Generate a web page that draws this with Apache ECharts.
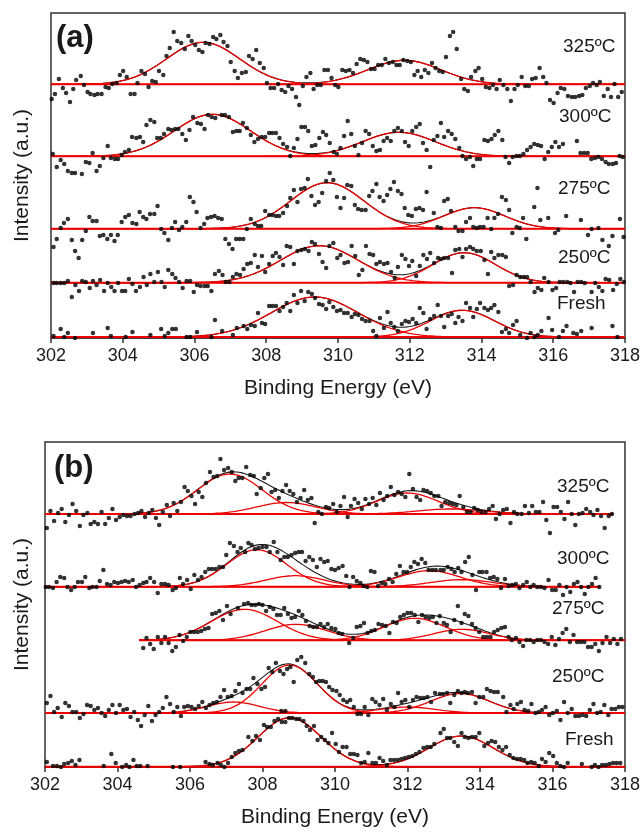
<!DOCTYPE html>
<html>
<head>
<meta charset="utf-8">
<title>XPS spectra</title>
<script src="https://cdn.jsdelivr.net/npm/echarts@6/dist/echarts.min.js"></script>
<style>
  html, body { margin: 0; padding: 0; background: #fff; }
  #chart { width: 643px; height: 832px; }
</style>
</head>
<body>
<div id="chart"></div>
<script>
// Binding-energy axis
const energyMin = 302;
const energyMax = 318;
const energyStep = 2;

const sampleLabels = ['325ºC', '300ºC', '275ºC', '250ºC', 'Fresh'];

// ---------- Panel (a) ----------
// baseline level of each stacked spectrum (arbitrary intensity units)
const baseA = [253.7, 181.7, 109.3, 55.3, 1];
// fitted components: [centre eV, height, FWHM eV]
const peaksA = [
  [[306.24, 42, 2.4], [311.85, 24, 2.4]],
  [[306.5, 42, 2.5], [311.7, 24, 2.4]],
  [[309.7, 46, 2.4], [313.8, 21, 2.0]],
  [[309.48, 37, 2.55], [313.52, 30, 2.05]],
  [[309.35, 40, 2.85], [313.47, 26.7, 2.1]]
];
const spanA = [[302, 318], [302, 318], [302, 318], [302, 318], [302, 318]];

const dotsA325 = [[302.02,239],[302.11,244],[302.22,259],[302.33,250],[302.42,245],[302.53,236],[302.62,249],[302.70,258],[302.83,262],[302.92,253],[303.02,246],[303.10,244],[303.21,243],[303.30,244],[303.41,244],[303.52,251],[303.61,250],[303.71,254],[303.83,255],[303.92,263],[304.01,267],[304.11,261],[304.22,244],[304.33,244],[304.41,255],[304.52,267],[304.62,264],[304.72,251],[304.82,257],[304.92,256],[305.01,267],[305.13,263],[305.22,282],[305.31,290],[305.42,306],[305.52,297],[305.63,295],[305.73,289],[305.83,302],[305.92,297],[306.02,293],[306.12,288],[306.22,286],[306.31,295],[306.42,294],[306.52,301],[306.61,299],[306.72,303],[306.81,296],[306.92,292],[307.01,276],[307.12,267],[307.21,260],[307.32,265],
[307.43,266],[307.52,282],[307.62,279],[307.72,288],[307.82,275],[307.93,270],[308.02,255],[308.12,250],[308.22,250],[308.33,254],[308.43,248],[308.53,246],[308.62,252],[308.72,249],[308.83,241],[308.92,233],[309.02,252],[309.12,261],[309.23,265],[309.32,249],[309.42,253],[309.52,253],[309.62,268],[309.72,268],[309.82,260],[309.92,253],[310.01,251],[310.12,268],[310.22,267],[310.32,268],[310.42,265],[310.52,274],[310.62,279],[310.72,278],[310.82,276],[310.92,269],[311.02,269],[311.12,273],[311.22,273],[311.32,279],[311.42,275],[311.53,276],[311.63,273],[311.72,273],[311.82,278],[311.93,277],[312.03,276],[312.13,263],[312.22,267],[312.32,261],[312.42,268],[312.52,265],[312.62,275],[312.72,270],
[312.82,267],[312.92,266],[313.01,281],[313.12,302],[313.21,306],[313.31,289],[313.43,259],[313.52,249],[313.62,247],[313.71,261],[313.83,267],[313.92,270],[314.02,259],[314.12,251],[314.22,250],[314.32,253],[314.42,249],[314.51,258],[314.61,253],[314.72,249],[314.82,237],[314.92,249],[315.01,253],[315.12,261],[315.22,252],[315.32,252],[315.41,259],[315.51,260],[315.62,270],[315.72,261],[315.81,255],[315.91,238],[316.01,235],[316.12,245],[316.21,250],[316.31,249],[316.41,242],[316.52,241],[316.61,241],[316.72,242],[316.81,243],[316.91,250],[317.02,252],[317.11,255],[317.21,253],[317.30,256],[317.41,242],[317.52,249],[317.61,241],[317.71,254],[317.81,241],[317.91,246]];

const dotsA300 = [[302.05,184],[302.16,171],[302.27,178],[302.37,174],[302.47,167],[302.58,165],[302.67,165],[302.86,164],[302.97,176],[303.07,175],[303.16,185],[303.27,167],[303.36,172],[303.46,180],[303.58,192],[303.67,180],[303.78,179],[303.87,179],[303.97,183],[304.06,186],[304.17,188],[304.26,201],[304.38,200],[304.48,201],[304.57,196],[304.66,213],[304.77,218],[304.88,216],[304.96,200],[305.06,200],[305.15,204],[305.27,209],[305.36,208],[305.46,209],[305.55,209],[305.66,204],[305.76,198],[305.86,208],[305.96,221],[306.08,215],[306.18,214],[306.28,209],[306.38,223],[306.48,221],[306.58,220],[306.76,223],[306.85,223],[306.96,221],[307.07,206],[307.17,207],[307.26,207],[307.35,215],
[307.46,210],[307.57,203],[307.67,196],[307.77,199],[307.87,201],[307.97,201],[308.08,205],[308.17,205],[308.27,205],[308.37,200],[308.47,194],[308.58,191],[308.67,182],[308.77,190],[308.87,199],[308.98,211],[309.08,211],[309.17,207],[309.27,192],[309.37,193],[309.48,200],[309.58,206],[309.67,203],[309.77,195],[309.88,186],[309.97,184],[310.07,190],[310.17,202],[310.27,217],[310.37,204],[310.47,192],[310.57,183],[310.67,195],[310.77,207],[310.87,204],[310.97,192],[311.07,187],[311.17,188],[311.27,197],[311.37,200],[311.47,197],[311.57,207],[311.67,210],[311.78,207],[311.87,196],[311.97,192],[312.07,207],[312.18,211],[312.28,214],[312.37,195],[312.47,188],[312.57,171],[312.67,198],[312.77,202],
[312.87,215],[312.96,201],[313.07,207],[313.17,204],[313.27,199],[313.38,190],[313.47,182],[313.57,179],[313.68,181],[313.77,172],[313.87,179],[313.96,179],[314.08,198],[314.18,197],[314.28,199],[314.37,203],[314.47,207],[314.58,198],[314.67,181],[314.77,175],[314.87,181],[314.98,182],[315.07,182],[315.17,184],[315.27,188],[315.37,191],[315.47,194],[315.57,193],[315.66,192],[315.76,179],[315.86,186],[315.96,191],[316.06,196],[316.16,191],[316.27,194],[316.66,197],[316.76,185],[316.86,185],[316.96,185],[317.06,179],[317.16,180],[317.26,181],[317.36,179],[317.46,176],[317.55,174],[317.66,174],[317.75,175],[317.85,182],[317.94,181]];

const dotsA275 = [[302.07,91],[302.16,99],[302.27,110],[302.36,115],[302.47,119],[302.58,98],[302.67,87],[302.77,80],[302.87,98],[302.97,107],[303.07,121],[303.16,117],[303.27,117],[303.36,102],[303.46,103],[303.57,99],[303.67,103],[303.77,97],[303.86,103],[303.97,116],[304.07,121],[304.17,123],[304.27,115],[304.38,114],[304.47,126],[304.57,121],[304.66,119],[304.76,124],[304.88,124],[304.97,132],[305.07,109],[305.16,105],[305.27,98],[305.37,110],[305.46,116],[305.57,108],[305.66,111],[305.77,116],[305.87,141],[305.97,136],[306.06,126],[306.17,110],[306.27,114],[306.36,120],[306.46,121],[306.56,122],[306.66,120],[306.76,119],[306.86,99],[306.96,94],[307.06,89],[307.16,99],[307.26,99],[307.36,99],
[307.46,109],[307.57,119],[307.68,114],[307.77,112],[307.86,112],[307.97,127],[308.08,123],[308.17,123],[308.27,122],[308.36,122],[308.47,125],[308.58,132],[308.67,140],[308.77,148],[308.87,136],[308.97,149],[309.07,150],[309.16,159],[309.26,142],[309.36,133],[309.46,136],[309.56,145],[309.67,157],[309.77,165],[309.87,158],[309.97,141],[310.07,130],[310.17,140],[310.26,153],[310.37,152],[310.47,133],[310.56,129],[310.66,128],[310.77,128],[310.87,142],[310.96,147],[311.07,154],[311.16,141],[311.27,137],[311.37,143],[311.46,149],[311.56,156],[311.67,147],[311.77,144],[311.86,130],[311.96,123],[312.06,122],[312.17,129],[312.27,130],[312.37,128],[312.47,146],[312.67,125],[312.77,111],
[312.87,110],[312.96,137],[313.06,139],[313.15,127],[313.27,111],[313.36,107],[313.47,107],[313.57,116],[313.68,120],[313.77,111],[313.87,110],[313.96,111],[314.06,111],[314.17,120],[314.27,109],[314.36,120],[314.46,124],[314.57,141],[314.68,138],[314.77,128],[314.86,105],[314.98,111],[315.07,110],[315.16,120],[315.25,99],[315.47,131],[315.56,150],[315.64,118],[315.86,120],[316.05,105],[316.14,108],[316.36,122],[316.77,118],[316.97,103],[317.07,109],[317.26,110],[317.37,98],[317.55,92],[317.65,102],[317.86,119],[317.96,101]];

const dotsA250 = [[302.07,55],[302.16,55],[302.27,55],[302.37,55],[302.47,57],[302.58,41],[302.68,53],[302.78,47],[302.87,57],[302.97,56],[303.08,50],[303.17,57],[303.27,53],[303.37,58],[303.48,47],[303.58,55],[303.68,51],[303.77,47],[303.87,55],[303.98,47],[304.07,47],[304.17,59],[304.27,54],[304.37,47],[304.48,51],[304.58,61],[304.67,53],[304.77,64],[304.88,56],[304.98,66],[305.08,56],[305.17,51],[305.27,68],[305.38,64],[305.47,60],[305.57,56],[305.67,50],[305.78,57],[305.88,57],[305.98,46],[306.07,53],[306.17,52],[306.28,52],[306.37,52],[306.47,47],[306.57,64],[306.68,67],[306.78,63],[306.87,56],[306.97,56],[307.07,61],[307.17,64],[307.27,63],[307.37,69],
[307.47,74],[307.57,75],[307.68,83],[307.77,71],[307.88,82],[307.97,66],[308.08,74],[308.18,82],[308.27,85],[308.37,81],[308.47,73],[308.57,92],[308.67,91],[308.77,74],[308.87,87],[308.98,88],[309.08,89],[309.18,87],[309.27,96],[309.36,94],[309.47,84],[309.57,76],[309.67,70],[309.76,92],[309.87,95],[309.98,80],[310.07,83],[310.18,75],[310.28,76],[310.38,92],[310.48,82],[310.58,63],[310.68,68],[310.78,92],[310.88,84],[310.98,83],[311.07,74],[311.17,76],[311.28,74],[311.38,75],[311.48,66],[311.58,60],[311.67,71],[311.78,83],[311.88,79],[311.98,72],[312.07,77],[312.18,62],[312.28,72],[312.38,83],[312.48,79],[312.57,85],[312.68,75],[312.79,80],
[312.87,79],[312.96,80],[313.07,80],[313.18,65],[313.27,88],[313.38,89],[313.47,81],[313.57,89],[313.68,91],[313.77,89],[313.87,87],[313.98,87],[314.08,78],[314.18,64],[314.27,86],[314.36,80],[314.47,83],[314.58,83],[314.68,81],[314.77,52],[314.88,53],[314.98,63],[315.08,61],[315.18,61],[315.27,61],[315.37,56],[315.48,46],[315.57,50],[315.67,48],[315.75,60],[315.87,56],[315.98,48],[316.08,50],[316.18,56],[316.28,56],[316.39,56],[316.48,55],[316.58,46],[316.68,56],[316.78,56],[316.88,55],[317.07,46],[317.17,55],[317.27,51],[317.37,47],[317.46,59],[317.56,58],[317.67,48],[317.77,54],[317.87,59],[317.97,56]];

const dotsAFresh = [[302.07,2],[302.27,9],[302.37,1],[302.47,5],[302.67,0],[303.17,5],[303.58,10],[303.67,2],[304.08,1],[304.27,6],[304.77,3],[305.07,9],[305.17,2],[305.27,5],[305.38,9],[305.48,9],[305.78,1],[305.88,1],[306.07,6],[306.47,1],[306.57,18],[306.77,7],[307.07,3],[307.18,10],[307.37,12],
[307.47,9],[307.57,13],[307.68,12],[307.77,25],[307.88,15],[307.97,14],[308.08,32],[308.17,32],[308.27,32],[308.37,27],[308.47,31],[308.57,35],[308.67,27],[308.77,43],[308.87,35],[308.97,47],[309.07,37],[309.17,46],[309.27,44],[309.36,40],[309.47,34],[309.57,33],[309.67,29],[309.76,36],[309.87,31],[309.97,27],[310.07,28],[310.17,25],[310.27,25],[310.38,21],[310.47,24],[310.57,23],[310.67,19],[310.77,17],[310.88,17],[310.98,7],[311.07,2],[311.17,20],[311.28,10],[311.38,26],[311.47,15],[311.57,11],[311.67,7],[311.78,14],[311.88,17],[311.98,16],[312.08,19],[312.18,15],[312.28,30],[312.38,25],[312.47,9],[312.57,19],[312.68,22],[312.78,33],
[312.87,22],[312.96,11],[313.07,22],[313.17,24],[313.27,15],[313.36,21],[313.47,17],[313.57,35],[313.68,30],[313.77,21],[313.87,29],[313.96,35],[314.08,30],[314.18,28],[314.27,30],[314.36,33],[314.47,26],[314.57,6],[314.68,9],[314.77,5],[314.88,13],[314.98,17],[315.08,3],[315.27,0],[315.37,5],[315.48,1],[315.57,3],[315.67,7],[315.87,20],[315.97,8],[316.16,1],[316.27,7],[316.37,12],[316.56,5],[316.66,4],[316.78,7],[317.07,10],[317.65,12],[317.79,1]];

// ---------- Panel (b) ----------
const baseB = [253, 180.3, 126.7, 54, 0.3];
const peaksB = [
  [[307.1, 40, 2.1], [308.66, 11.5, 1.95], [312.0, 21, 2.0], [313.2, 5, 2.2]],
  [[307.84, 37, 1.95], [308.9, 11, 1.9], [312.6, 16, 2.0], [313.5, 7, 2.0]],
  [[307.5, 31, 2.15], [308.93, 16, 2.0], [312.2, 22, 2.0], [313.5, 11, 1.8]],
  [[308.75, 48, 1.8], [307.2, 11, 1.7], [313.45, 19.5, 1.9], [312.0, 6, 1.8]],
  [[308.75, 49, 2.05], [313.48, 30.7, 2.1]]
];
const spanB = [[302, 317.67], [302, 317.3], [304.6, 318], [302, 318], [302, 318]];

const dotsB325 = [[302.05,239],[302.15,256],[302.25,246],[302.36,254],[302.46,258],[302.56,245],[302.66,252],[302.76,263],[302.86,256],[302.96,241],[303.06,252],[303.17,254],[303.26,243],[303.36,245],[303.46,243],[303.56,255],[303.66,243],[303.76,249],[303.86,258],[303.96,247],[304.06,250],[304.16,252],[304.26,251],[304.36,251],[304.47,253],[304.57,254],[304.66,256],[304.76,250],[304.86,254],[304.96,257],[305.06,249],[305.15,242],[305.25,255],[305.36,262],[305.45,251],[305.55,264],[305.65,256],[305.75,265],[305.85,280],[305.94,276],[306.04,271],[306.14,263],[306.24,275],[306.34,270],[306.44,284],[306.55,295],[306.65,290],[306.75,291],[306.84,308],[306.94,297],[307.05,299],[307.15,295],[307.25,286],[307.34,289],[307.44,289],
[307.55,300],[307.66,292],[307.76,291],[307.84,273],[307.95,279],[308.05,289],[308.15,293],[308.25,275],[308.35,277],[308.45,269],[308.55,276],[308.65,282],[308.75,276],[308.85,273],[308.95,265],[309.05,269],[309.15,277],[309.25,267],[309.35,269],[309.44,244],[309.54,255],[309.64,253],[309.75,260],[309.84,259],[309.95,263],[310.05,255],[310.15,261],[310.25,270],[310.35,250],[310.44,261],[310.54,268],[310.64,264],[310.74,258],[310.84,268],[310.94,263],[311.04,269],[311.14,262],[311.24,274],[311.34,267],[311.44,271],[311.54,280],[311.64,272],[311.74,275],[311.84,273],[311.94,270],[312.05,293],[312.15,278],[312.25,270],[312.35,267],[312.44,277],[312.54,276],[312.64,274],[312.74,271],
[312.85,271],[312.94,261],[313.04,265],[313.15,264],[313.25,263],[313.35,262],[313.44,271],[313.54,260],[313.64,255],[313.74,255],[313.84,259],[313.94,257],[314.04,255],[314.15,255],[314.25,258],[314.35,261],[314.44,248],[314.54,253],[314.64,257],[314.74,258],[314.84,244],[314.94,255],[315.03,253],[315.15,253],[315.24,261],[315.35,254],[315.44,261],[315.54,255],[315.64,255],[315.74,265],[315.83,247],[315.93,234],[316.03,260],[316.13,260],[316.23,255],[316.33,248],[316.43,265],[316.53,253],[316.63,242],[316.73,253],[316.83,254],[316.93,258],[317.04,255],[317.13,252],[317.24,257],[317.34,251],[317.44,239],[317.55,251],[317.64,253]];

const dotsB300 = [[302.02,180],[302.11,180],[302.22,179],[302.32,185],[302.42,190],[302.53,189],[302.62,180],[302.72,177],[302.82,180],[302.91,185],[303.02,185],[303.11,190],[303.22,179],[303.31,180],[303.42,180],[303.51,186],[303.61,197],[303.71,183],[303.81,182],[303.91,185],[304.01,184],[304.11,185],[304.21,186],[304.31,185],[304.42,187],[304.51,180],[304.61,182],[304.71,184],[304.80,185],[304.90,189],[305.01,185],[305.11,174],[305.21,183],[305.31,183],[305.41,182],[305.52,177],[305.61,179],[305.72,189],[305.81,183],[305.92,187],[306.02,178],[306.12,192],[306.22,187],[306.32,190],[306.42,195],[306.52,198],[306.61,198],[306.71,198],[306.81,200],[306.91,200],[307.00,212],[307.10,224],[307.21,221],[307.31,215],[307.40,219],
[307.52,215],[307.61,224],[307.70,222],[307.79,218],[307.89,219],[308.00,220],[308.11,220],[308.20,215],[308.31,225],[308.41,215],[308.50,207],[308.60,210],[308.70,210],[308.80,212],[308.90,214],[309.00,215],[309.09,215],[309.19,206],[309.29,210],[309.39,207],[309.50,200],[309.60,208],[309.70,205],[309.80,206],[309.90,198],[310.00,197],[310.10,199],[310.21,201],[310.31,191],[310.40,180],[310.50,190],[310.60,186],[310.70,184],[310.79,181],[310.89,180],[310.99,196],[311.09,195],[311.19,181],[311.29,184],[311.39,183],[311.49,188],[311.59,185],[311.69,193],[311.79,201],[311.89,195],[311.99,195],[312.09,200],[312.19,205],[312.29,203],[312.39,208],[312.49,204],[312.58,197],[312.68,197],[312.78,197],
[312.91,197],[313.00,197],[313.11,200],[313.21,198],[313.30,195],[313.40,199],[313.49,195],[313.59,205],[313.69,210],[313.79,192],[313.89,177],[313.98,195],[314.07,195],[314.18,195],[314.28,189],[314.38,190],[314.48,188],[314.58,179],[314.69,188],[314.79,181],[314.89,182],[314.99,183],[315.09,179],[315.19,182],[315.29,185],[315.39,180],[315.48,182],[315.58,180],[315.68,180],[315.78,179],[315.89,187],[315.99,177],[316.09,177],[316.19,182],[316.29,172],[316.39,180],[316.49,175],[316.59,183],[316.69,185],[316.79,180],[316.89,173],[316.99,180],[317.09,183],[317.19,189],[317.29,180]];

const dotsB275 = [[304.71,119],[304.80,129],[304.90,123],[305.00,118],[305.11,130],[305.21,124],[305.31,130],[305.41,124],[305.51,116],[305.61,120],[305.71,132],[305.81,126],[305.91,130],[306.01,135],[306.11,135],[306.21,135],[306.31,136],[306.41,138],[306.51,139],[306.61,153],[306.71,154],[306.81,156],[306.91,147],[307.02,161],[307.12,153],[307.32,159],
[307.49,163],[307.60,164],[307.70,162],[307.80,162],[307.90,163],[308.00,162],[308.10,156],[308.20,160],[308.30,158],[308.40,152],[308.50,152],[308.60,159],[308.70,153],[308.80,149],[308.90,150],[309.00,156],[309.10,152],[309.20,146],[309.30,141],[309.40,140],[309.50,140],[309.60,143],[309.70,140],[309.80,143],[309.90,139],[310.01,138],[310.10,134],[310.20,133],[310.39,124],[310.50,129],[310.60,140],[310.70,141],[310.80,144],[310.90,134],[311.00,136],[311.10,137],[311.20,143],[311.30,142],[311.40,141],[311.50,134],[311.60,145],[311.70,144],[311.80,150],[311.90,152],[312.00,154],[312.10,154],[312.20,152],[312.30,145],[312.40,152],[312.50,150],[312.60,149],[312.70,150],
[312.80,144],[312.89,151],[313.00,144],[313.09,142],[313.19,135],[313.29,147],[313.39,161],[313.49,144],[313.58,153],[313.68,151],[313.78,143],[313.88,139],[313.98,135],[314.09,130],[314.19,130],[314.29,130],[314.39,135],[314.49,137],[314.59,139],[314.69,140],[314.79,130],[314.88,127],[314.99,129],[315.09,125],[315.19,121],[315.28,127],[315.38,127],[315.48,125],[315.58,127],[315.68,127],[315.78,125],[315.88,123],[315.98,130],[316.08,122],[316.18,128],[316.28,134],[316.38,138],[316.48,125],[316.58,132],[316.68,125],[316.78,125],[316.88,125],[316.98,120],[317.08,120],[317.18,123],[317.28,116],[317.38,124],[317.49,130],[317.59,124],[317.69,128],[317.79,123],[317.89,128]];

const dotsB250 = [[302.05,64],[302.15,71],[302.25,55],[302.35,59],[302.46,50],[302.56,64],[302.66,61],[302.76,55],[302.86,55],[302.96,49],[303.06,53],[303.16,62],[303.26,61],[303.36,57],[303.46,59],[303.56,54],[303.66,51],[303.76,57],[303.86,62],[303.96,54],[304.06,62],[304.16,57],[304.26,58],[304.36,50],[304.46,55],[304.56,47],[304.65,41],[304.75,52],[304.85,61],[304.95,46],[305.05,52],[305.15,55],[305.25,59],[305.35,70],[305.45,63],[305.55,55],[305.65,60],[305.75,51],[305.84,60],[305.94,61],[306.04,60],[306.14,58],[306.24,61],[306.34,65],[306.44,59],[306.54,62],[306.64,64],[306.74,65],[306.84,70],[306.94,77],[307.04,70],[307.15,71],[307.25,76],[307.35,83],[307.45,74],
[307.56,78],[307.66,78],[307.75,89],[307.86,83],[307.97,78],[308.07,80],[308.17,99],[308.27,95],[308.37,104],[308.48,96],[308.52,56],[308.58,93],[308.63,56],[308.68,98],[308.77,100],[308.86,85],[308.96,107],[309.07,110],[309.18,104],[309.29,93],[309.39,90],[309.48,85],[309.57,86],[309.66,86],[309.75,85],[309.84,80],[309.93,77],[310.04,76],[310.13,72],[310.23,67],[310.33,65],[310.42,67],[310.52,60],[310.62,53],[310.72,53],[310.82,60],[310.92,52],[311.03,68],[311.12,65],[311.23,62],[311.33,68],[311.43,57],[311.54,63],[311.64,60],[311.74,74],[311.84,65],[311.94,67],[312.05,60],[312.15,67],[312.25,70],[312.35,69],[312.45,69],[312.55,70],[312.65,65],[312.76,74],
[312.89,73],[312.98,73],[313.09,74],[313.18,64],[313.29,72],[313.39,76],[313.49,74],[313.58,75],[313.67,74],[313.78,75],[313.88,64],[313.98,70],[314.09,70],[314.19,78],[314.29,76],[314.39,75],[314.49,75],[314.64,70],[314.73,55],[314.84,62],[314.93,58],[315.03,63],[315.13,65],[315.23,57],[315.33,56],[315.42,63],[315.53,54],[315.62,55],[315.71,57],[315.81,60],[315.91,52],[316.01,54],[316.12,56],[316.22,47],[316.32,65],[316.42,54],[316.53,58],[316.63,51],[316.73,51],[316.83,52],[316.93,51],[317.03,57],[317.13,63],[317.23,54],[317.33,55],[317.43,62],[317.54,52],[317.63,58],[317.73,58],[317.83,60],[317.93,60]];

const dotsBFresh = [[302.05,5],[302.22,1],[302.33,1],[302.44,0],[302.53,3],[302.64,4],[302.74,6],[302.84,2],[302.95,7],[303.62,1],[303.83,13],[303.95,4],[304.13,0],[304.24,2],[304.33,0],[304.44,7],[304.53,1],[304.63,1],[304.83,1],[305.53,0],[305.73,0],[306.43,5],[306.54,3],[306.63,2],[306.76,4],[306.85,2],[306.95,0],[307.05,4],[307.15,10],[307.25,14],[307.35,16],[307.45,17],
[307.61,30],[307.72,26],[307.82,31],[307.93,27],[308.04,42],[308.13,40],[308.23,40],[308.33,46],[308.43,48],[308.53,45],[308.63,45],[308.73,49],[308.82,49],[308.93,48],[309.02,48],[309.13,46],[309.22,41],[309.31,37],[309.42,41],[309.52,27],[309.62,30],[309.72,27],[309.82,24],[309.92,34],[310.02,23],[310.11,15],[310.21,20],[310.32,20],[310.42,13],[310.52,13],[310.62,12],[310.72,4],[310.82,5],[310.92,14],[311.03,4],[311.13,4],[311.23,9],[311.33,6],[311.43,2],[311.53,7],[311.63,7],[311.73,7],[311.83,8],[311.93,9],[312.03,10],[312.13,11],[312.23,13],[312.33,15],[312.44,19],[312.54,20],[312.64,20],[312.74,23],
[312.91,34],[313.00,38],[313.09,29],[313.18,29],[313.29,25],[313.39,21],[313.49,34],[313.58,30],[313.68,29],[313.78,30],[313.88,30],[313.98,34],[314.12,21],[314.22,24],[314.32,26],[314.42,25],[314.52,20],[314.62,17],[314.72,20],[314.82,12],[314.92,9],[315.02,8],[315.12,8],[315.22,7],[315.31,4],[315.41,5],[315.51,4],[315.62,1],[315.71,8],[315.81,5],[315.91,14],[316.02,11],[316.12,4],[316.22,1],[316.32,0],[316.42,4],[316.81,3],[317.08,0],[317.17,2],[317.27,0],[317.37,2],[317.47,2],[317.57,3],[317.67,4],[317.77,4],[317.87,4]];

const dotsA = [dotsA325, dotsA300, dotsA275, dotsA250, dotsAFresh];
const dotsB = [dotsB325, dotsB300, dotsB275, dotsB250, dotsBFresh];

// ---------- drawing ----------
const RED = '#ee0000';
const INK = '#1a1a1a';
const FONT = '"Liberation Sans", Arial, sans-serif';

// Gaussian line shape of one fitted component
function gauss(x, p) {
  const d = (x - p[0]) / p[2];
  return p[1] * Math.exp(-4 * Math.LN2 * d * d);
}

function fitLine(span, base, comps) {
  const pts = [];
  const n = Math.round((span[1] - span[0]) / 0.04);
  for (let i = 0; i <= n; i++) {
    const x = span[0] + (span[1] - span[0]) * i / n;
    let y = base;
    comps.forEach(p => { y += gauss(x, p); });
    pts.push([x, y]);
  }
  return pts;
}

function lineSeries(g, data, color, width, z) {
  return {
    type: 'line', xAxisIndex: g, yAxisIndex: g, data: data,
    showSymbol: false, symbol: 'none', silent: true, z: z,
    lineStyle: { color: color, width: width }
  };
}

const series = [];
function addPanel(g, base, peaks, spans, dots) {
  base.forEach((b, k) => {
    const comps = peaks[k];
    series.push(lineSeries(g, fitLine(spans[k], b, comps), INK, 1.1, 2));
    comps.forEach(p => series.push(lineSeries(g, fitLine(spans[k], b, [p]), RED, 1.3, 3)));
    series.push(lineSeries(g, [[spans[k][0], b], [spans[k][1], b]], RED, 2, 3));
    series.push({
      type: 'scatter', xAxisIndex: g, yAxisIndex: g, data: dots[k],
      symbol: 'circle', symbolSize: 4.5, silent: true, z: 4, clip: true,
      itemStyle: { color: '#000' }
    });
  });
}
addPanel(0, baseA, peaksA, spanA, dotsA);
addPanel(1, baseB, peaksB, spanB, dotsB);

function xAxisFor(g) {
  return {
    gridIndex: g, type: 'value', min: energyMin, max: energyMax, interval: energyStep,
    axisLine: { show: true, onZero: false, lineStyle: { color: '#333', width: 1.5 } },
    axisTick: { show: true, inside: false, length: 5, lineStyle: { color: '#333', width: 1.5 } },
    splitLine: { show: false },
    axisLabel: { fontSize: 18, color: INK, fontFamily: FONT, margin: 9 },
    name: 'Binding Energy (eV)', nameLocation: 'middle', nameGap: 40,
    nameTextStyle: { fontSize: 21, color: INK, fontFamily: FONT }
  };
}
function yAxisFor(g, gap) {
  return {
    gridIndex: g, type: 'value', min: 0, max: 325,
    axisLine: { show: false }, axisTick: { show: false },
    axisLabel: { show: false }, splitLine: { show: false },
    name: 'Intensity (a.u.)', nameLocation: 'middle', nameGap: gap,
    nameTextStyle: { fontSize: 21, color: INK, fontFamily: FONT }
  };
}

function label(text, x, y, size, bold) {
  return {
    type: 'text', x: x, y: y, silent: true, z: 10,
    style: {
      text: text, fill: INK, align: 'left', verticalAlign: 'middle',
      textAlign: 'left', textVerticalAlign: 'middle',
      font: (bold ? 'bold ' : '') + size + 'px ' + FONT
    }
  };
}

const labelPosA = [[563, 47], [559, 117], [558, 189], [558, 258], [557, 304]];
const labelPosB = [[557, 487], [557, 559], [552, 609], [552, 677], [565, 740]];
const graphics = [label('(a)', 56, 38, 31, true), label('(b)', 54, 468, 31, true)];
sampleLabels.forEach((t, k) => {
  graphics.push(label(t, labelPosA[k][0], labelPosA[k][1], 19, false));
  graphics.push(label(t, labelPosB[k][0], labelPosB[k][1], 19, false));
});

const chart = echarts.init(document.getElementById('chart'), null, { renderer: 'canvas' });
chart.setOption({
  animation: false,
  backgroundColor: '#fff',
  grid: [
    { left: 51, top: 13, width: 575, height: 325, show: true, borderColor: '#333', borderWidth: 1.5, backgroundColor: 'transparent' },
    { left: 45, top: 442, width: 585, height: 325, show: true, borderColor: '#333', borderWidth: 1.5, backgroundColor: 'transparent' }
  ],
  xAxis: [xAxisFor(0), xAxisFor(1)],
  yAxis: [yAxisFor(0, 18), yAxisFor(1, 12)],
  series: series,
  graphic: graphics
});
</script>
</body>
</html>
